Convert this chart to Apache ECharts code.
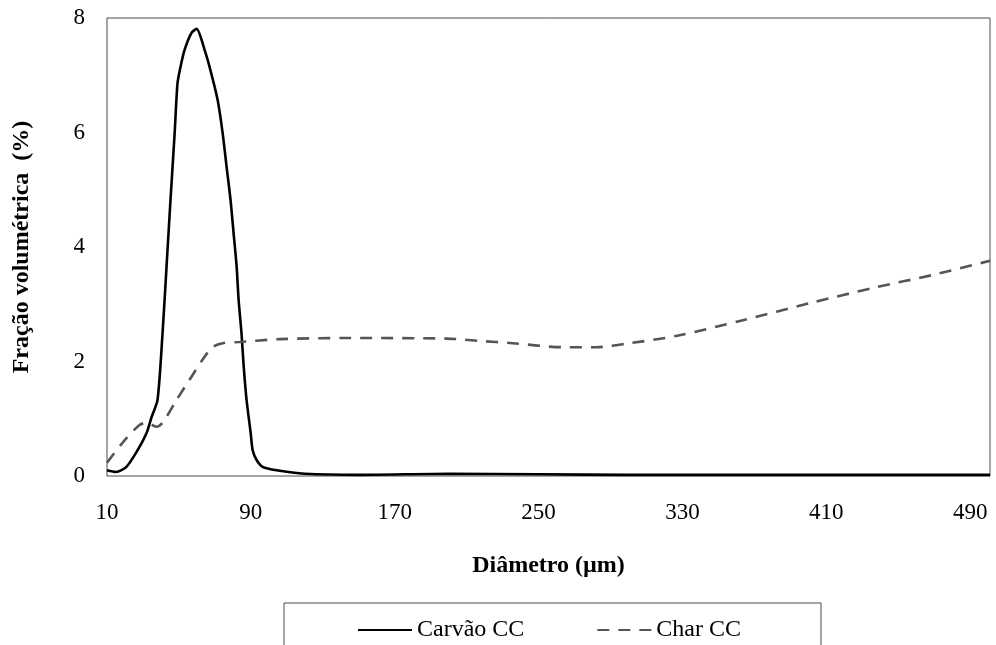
<!DOCTYPE html>
<html>
<head>
<meta charset="utf-8">
<script src="https://cdn.jsdelivr.net/npm/echarts@6/dist/echarts.min.js"></script>
<style>html,body{margin:0;padding:0;background:#fff;}#c{width:996px;height:645px;}</style>
</head>
<body>
<div id="c"></div>
<script>
// Diameter (µm) and volume fraction (%)
var carvaoX = [10, 15, 20.8, 27, 32, 34.8, 38.1, 40.9, 43.1, 45.3, 47.6, 49.2, 50.9, 53.1, 57.0, 59.8, 64.3, 67.0, 71.5, 74.3, 76.5, 78.7, 80.4, 82.1, 83.2, 84.8, 86.0, 87.6, 89.9, 91.0, 93.2, 96.5, 104.3, 120, 150, 200, 250, 300, 400, 501];
var carvaoY = [0.10, 0.07, 0.16, 0.45, 0.75, 1.03, 1.33, 2.5, 3.65, 4.82, 5.98, 6.86, 7.15, 7.44, 7.74, 7.81, 7.44, 7.15, 6.57, 5.99, 5.40, 4.82, 4.24, 3.65, 3.07, 2.49, 1.92, 1.33, 0.75, 0.45, 0.28, 0.16, 0.10, 0.04, 0.02, 0.04, 0.03, 0.02, 0.02, 0.02];
var charX = [10, 18.6, 28.1, 32.5, 37.5, 40.9, 48.7, 55.9, 63.1, 68.7, 74.3, 83.7, 106, 145, 199, 217, 235.6, 263.5, 282, 300.8, 327, 363.6, 401, 438, 469, 501];
var charY = [0.23, 0.58, 0.89, 0.93, 0.86, 0.93, 1.33, 1.68, 2.03, 2.25, 2.32, 2.34, 2.39, 2.41, 2.40, 2.36, 2.32, 2.25, 2.25, 2.32, 2.45, 2.72, 3.02, 3.3, 3.51, 3.76];
var xTicks = [10, 90, 170, 250, 330, 410, 490];
var yTicks = [0, 2, 4, 6, 8];

function pairs(xs, ys) { return xs.map(function (x, i) { return [x, ys[i]]; }); }

var font = 'Liberation Serif, Times New Roman, serif';
var chart = echarts.init(document.getElementById('c'));
chart.setOption({
  animation: false,
  backgroundColor: '#fff',
  grid: { left: 107, right: 6, top: 18, bottom: 169, show: true, borderColor: '#4d4d4d', borderWidth: 1, containLabel: false, outerBoundsMode: 'none' },
  xAxis: {
    type: 'value', min: 10, max: 501, interval: 80,
    name: 'Diâmetro (µm)', nameLocation: 'middle', nameGap: 78,
    nameTextStyle: { fontFamily: font, fontSize: 24, fontWeight: 'bold', color: '#000' },
    axisLine: { show: false }, axisTick: { show: false }, splitLine: { show: false },
    axisLabel: {
      margin: 25, fontFamily: font, fontSize: 23, color: '#000',
      formatter: function (v) { return xTicks.indexOf(v) >= 0 ? String(v) : ''; }
    }
  },
  yAxis: {
    type: 'value', min: 0, max: 8, interval: 2,
    name: 'Fração volumétrica  (%)', nameLocation: 'middle', nameGap: 73,
    nameTextStyle: { fontFamily: font, fontSize: 24, fontWeight: 'bold', color: '#000' },
    axisLine: { show: false }, axisTick: { show: false }, splitLine: { show: false },
    axisLabel: {
      margin: 22, fontFamily: font, fontSize: 23, color: '#000',
      formatter: function (v) { return yTicks.indexOf(v) >= 0 ? String(v) : ''; }
    }
  },
  legend: {
    left: 284, top: 603,
    padding: [15, 80, 20, 73],
    borderColor: '#4d4d4d', borderWidth: 1,
    itemWidth: 54, itemHeight: 14, itemGap: 72,
    itemStyle: { opacity: 0 },
    textStyle: { fontFamily: font, fontSize: 24, color: '#000' },
    data: ['Carvão CC', 'Char CC']
  },
  series: [
    {
      name: 'Carvão CC', type: 'line', data: pairs(carvaoX, carvaoY),
      smooth: 0.25, symbol: 'none', clip: false,
      lineStyle: { color: '#000', width: 2.6 }, itemStyle: { color: '#000' }
    },
    {
      name: 'Char CC', type: 'line', data: pairs(charX, charY),
      smooth: 0.3, symbol: 'none', clip: false,
      lineStyle: { color: '#555', width: 2.6, type: [12, 9] }, itemStyle: { color: '#555' }
    }
  ]
});
</script>
</body>
</html>
